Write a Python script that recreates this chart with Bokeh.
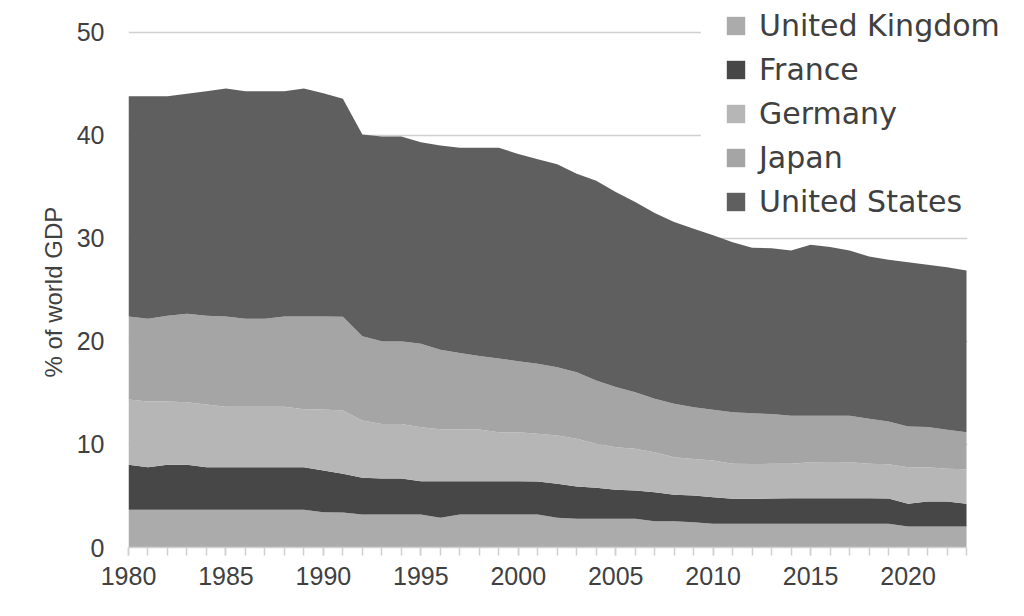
from bokeh.plotting import figure
from bokeh.models import (ColumnDataSource, Range1d, FixedTicker, SingleIntervalTicker,
                          Legend, LegendItem, BoxAnnotation, Title)
from bokeh.embed import file_html
from bokeh.resources import INLINE

years = list(range(1980, 2024))

united_kingdom = [3.66, 3.66, 3.66, 3.66, 3.66, 3.66, 3.66, 3.66, 3.66, 3.66,
                  3.43, 3.40, 3.20, 3.20, 3.20, 3.20, 2.88, 3.20, 3.20, 3.20,
                  3.20, 3.20, 2.90, 2.80, 2.80, 2.80, 2.80, 2.55, 2.55, 2.46,
                  2.30, 2.30, 2.30, 2.30, 2.30, 2.30, 2.30, 2.30, 2.30, 2.30,
                  2.04, 2.04, 2.04, 2.04]
france = [4.37, 4.14, 4.37, 4.37, 4.14, 4.14, 4.14, 4.14, 4.14, 4.14,
          4.05, 3.75, 3.56, 3.50, 3.50, 3.24, 3.56, 3.24, 3.24, 3.24,
          3.24, 3.20, 3.28, 3.12, 3.00, 2.80, 2.73, 2.82, 2.57, 2.59,
          2.58, 2.43, 2.43, 2.45, 2.49, 2.49, 2.49, 2.49, 2.49, 2.46,
          2.20, 2.43, 2.43, 2.20]
germany = [6.34, 6.37, 6.14, 6.07, 6.08, 5.86, 5.86, 5.86, 5.86, 5.63,
           5.92, 6.15, 5.57, 5.30, 5.30, 5.24, 5.05, 5.01, 5.01, 4.76,
           4.76, 4.64, 4.69, 4.63, 4.27, 4.14, 4.05, 3.88, 3.65, 3.55,
           3.57, 3.39, 3.37, 3.37, 3.33, 3.49, 3.51, 3.49, 3.33, 3.33,
           3.56, 3.33, 3.17, 3.36]
japan = [8.06, 8.03, 8.33, 8.60, 8.62, 8.77, 8.54, 8.54, 8.77, 9.00,
         9.03, 9.10, 8.17, 8.03, 8.03, 8.09, 7.71, 7.42, 7.15, 7.15,
         6.89, 6.79, 6.63, 6.47, 6.13, 5.83, 5.50, 5.18, 5.18, 5.02,
         4.92, 5.02, 4.94, 4.83, 4.66, 4.50, 4.48, 4.50, 4.37, 4.14,
         3.95, 3.90, 3.78, 3.60]
united_states = [21.37, 21.60, 21.30, 21.35, 21.80, 22.13, 22.10, 22.10, 21.87, 22.13,
                 21.67, 21.16, 19.60, 19.87, 19.87, 19.58, 19.83, 19.93, 20.20, 20.45,
                 20.11, 19.87, 19.70, 19.26, 19.40, 18.93, 18.45, 18.03, 17.65, 17.32,
                 16.93, 16.50, 16.06, 16.10, 16.05, 16.62, 16.38, 16.05, 15.76, 15.70,
                 15.95, 15.74, 15.78, 15.70]

series_names = ["United Kingdom", "France", "Germany", "Japan", "United States"]
series_keys = ["uk", "fr", "de", "jp", "us"]
series_colors = ["#ababab", "#474747", "#b6b6b6", "#a5a5a5", "#5f5f5f"]
y_ticks = [0, 10, 20, 30, 40, 50]
x_label_interval = 5

source = ColumnDataSource(dict(year=years, uk=united_kingdom, fr=france,
                               de=germany, jp=japan, us=united_states))

FONT = "Liberation Sans"
TEXT = "#404040"
GRID = "#d0d0d0"
X_FIRST, X_LAST = years[0], years[-1]

p = figure(width=1008, height=600, output_backend="svg", toolbar_location=None,
           x_range=Range1d(X_FIRST, X_LAST + 2), y_range=Range1d(0, 53.1),
           min_border_left=128, min_border_right=3, min_border_top=0,
           min_border_bottom=53)
p.outline_line_color = None
p.background_fill_color = "white"
p.border_fill_color = "white"

renderers = p.varea_stack(stackers=series_keys, x="year", color=series_colors,
                          source=source)

# x axis
xa = p.xaxis[0]
xa.ticker = SingleIntervalTicker(interval=x_label_interval, num_minor_ticks=5)
xa.bounds = (X_FIRST, X_LAST)
xa.axis_line_color = GRID
xa.axis_line_width = 1.5
xa.major_tick_line_color = GRID
xa.minor_tick_line_color = GRID
xa.major_tick_line_width = 1.5
xa.minor_tick_line_width = 1.5
xa.major_tick_in = 0
xa.minor_tick_in = 0
xa.major_tick_out = 8
xa.minor_tick_out = 8
xa.major_label_text_font = FONT
xa.major_label_text_font_size = "25px"
xa.major_label_text_color = TEXT
xa.major_label_standoff = 11

# y axis
ya = p.yaxis[0]
ya.ticker = FixedTicker(ticks=y_ticks)
ya.axis_line_color = None
ya.major_tick_line_color = None
ya.minor_tick_line_color = None
ya.major_tick_out = 0
ya.major_tick_in = 0
ya.major_label_text_font = FONT
ya.major_label_text_font_size = "25px"
ya.major_label_text_color = TEXT
ya.major_label_standoff = 24

p.add_layout(Title(text="% of world GDP", align="left", offset=170, standoff=14,
                   text_font=FONT, text_font_size="24px", text_font_style="normal",
                   text_color=TEXT), "left")

p.xgrid.visible = False
p.ygrid.grid_line_color = GRID
p.ygrid.grid_line_width = 1.5

# white backing behind the legend and right of the last year (hides grid lines)
p.add_layout(BoxAnnotation(left=2009.37, bottom=31.26, fill_color="white",
                           fill_alpha=1.0, line_color=None))
p.add_layout(BoxAnnotation(left=X_LAST + 0.04, bottom=0.1, fill_color="white",
                           fill_alpha=1.0, line_color=None))

items = [LegendItem(label=n, renderers=[r]) for n, r in zip(series_names, renderers)]
legend = Legend(items=items, location=(596, 326), orientation="vertical",
                glyph_width=23, glyph_height=23, label_height=40,
                label_standoff=12, spacing=4, padding=4, margin=0,
                label_text_font="DejaVu Sans", label_text_font_size="30px",
                label_text_color=TEXT, background_fill_color="white",
                background_fill_alpha=1.0, border_line_color=None)
p.add_layout(legend)

open("out.html", "w").write(file_html(p, INLINE))
